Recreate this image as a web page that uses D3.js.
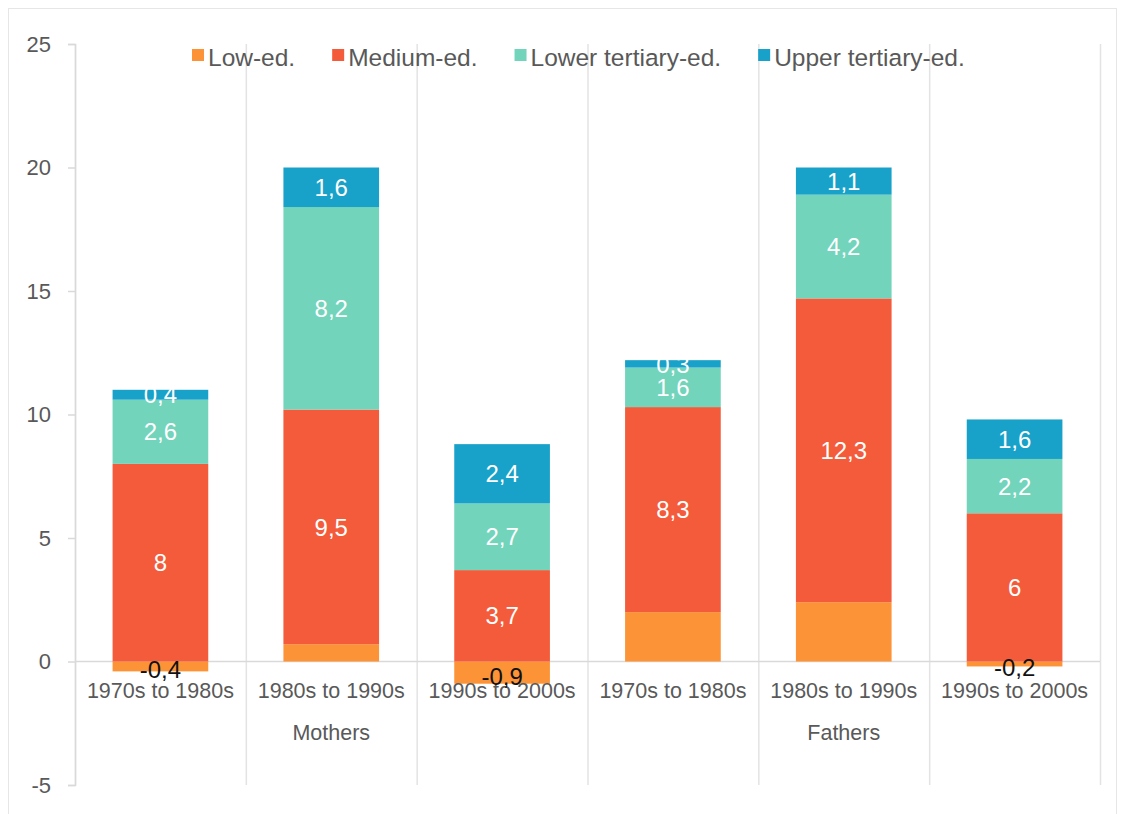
<!DOCTYPE html>
<html>
<head>
<meta charset="utf-8">
<script src="https://cdn.jsdelivr.net/npm/d3@7"></script>
<style>
    body { margin: 0; background: #fff; }
    svg { font-family: "Liberation Sans", Arial, sans-serif; }
</style>
</head>
<body>
<svg width="1121" height="814"></svg>
<script>
// categories (decade transitions), grouped by parent
const periods = ["1970s to 1980s", "1980s to 1990s", "1990s to 2000s",
                 "1970s to 1980s", "1980s to 1990s", "1990s to 2000s"];
const groups = ["Mothers", "Mothers", "Mothers", "Fathers", "Fathers", "Fathers"];
const groupNames = ["Mothers", "Fathers"];

// series values, one per category
const lowEd = [-0.4, 0.7, -0.9, 2.0, 2.4, -0.2];
const mediumEd = [8, 9.5, 3.7, 8.3, 12.3, 6];
const lowerTertiary = [2.6, 8.2, 2.7, 1.6, 4.2, 2.2];
const upperTertiary = [0.4, 1.6, 2.4, 0.3, 1.1, 1.6];

const seriesNames = ["Low-ed.", "Medium-ed.", "Lower tertiary-ed.", "Upper tertiary-ed."];
const seriesColors = ["#fd9337", "#f45b3a", "#72d4bb", "#18a2c9"];
const yTicks = [-5, 0, 5, 10, 15, 20, 25];

const seriesKeys = ["low", "medium", "lower", "upper"];
const rows = periods.map((p, i) => ({
    idx: i,
    low: lowEd[i],
    medium: mediumEd[i],
    lower: lowerTertiary[i],
    upper: upperTertiary[i]
}));

const svg = d3.select("svg");
const plotLeft = 75, plotRight = 1100, plotTop = 44, plotBottom = 785;

// outer frame
svg.append("rect")
    .attr("x", 8.5).attr("y", 8.5)
    .attr("width", 1108).attr("height", 820)
    .attr("fill", "none")
    .attr("stroke", "#e6e6e6");

const x = d3.scaleBand()
    .domain(rows.map(d => d.idx))
    .range([plotLeft, plotRight])
    .paddingInner(0.44)
    .paddingOuter(0.22);

const y = d3.scaleLinear()
    .domain([-5, 25])
    .range([plotBottom, plotTop]);

// vertical separators between categories
const step = x.step();
svg.append("g")
    .selectAll("line")
    .data(d3.range(periods.length + 1))
    .join("line")
    .attr("x1", i => plotLeft + i * step + 0.5)
    .attr("x2", i => plotLeft + i * step + 0.5)
    .attr("y1", y(25))
    .attr("y2", y(-5))
    .attr("stroke", "#e3e3e3")
    .attr("stroke-width", 1.5);

// y axis
const yAxis = d3.axisLeft(y)
    .tickValues(yTicks)
    .tickFormat(d => String(d))
    .tickSize(7)
    .tickPadding(17);
const yg = svg.append("g")
    .attr("transform", `translate(${plotLeft}, 0)`)
    .call(yAxis);
yg.selectAll("path, line").attr("stroke", "#d9d9d9").attr("stroke-width", 1.5);
yg.selectAll("text")
    .attr("fill", "#595959")
    .style("font-size", "22px")
    .style("font-family", "Liberation Sans, Arial, sans-serif");

// zero line
svg.append("line")
    .attr("x1", plotLeft).attr("x2", plotRight)
    .attr("y1", y(0)).attr("y2", y(0))
    .attr("stroke", "#d9d9d9")
    .attr("stroke-width", 1.5);

// stacked bars
const stack = d3.stack()
    .keys(seriesKeys)
    .offset(d3.stackOffsetDiverging);
const stacked = stack(rows);

const fmt = v => String(v).replace(".", ",");

const layer = svg.append("g")
    .selectAll("g")
    .data(stacked)
    .join("g")
    .attr("fill", (d, i) => seriesColors[i]);

layer.selectAll("rect")
    .data(d => d)
    .join("rect")
    .attr("x", d => x(d.data.idx))
    .attr("width", x.bandwidth())
    .attr("y", d => y(Math.max(d[0], d[1])))
    .attr("height", d => Math.abs(y(d[0]) - y(d[1])));

// category labels
svg.append("g")
    .selectAll("text")
    .data(rows)
    .join("text")
    .attr("x", d => x(d.idx) + x.bandwidth() / 2)
    .attr("y", 698)
    .attr("text-anchor", "middle")
    .attr("fill", "#595959")
    .style("font-size", "21.5px")
    .text(d => periods[d.idx]);

// data labels (positive low-ed. values are not labelled)
stacked.forEach((s, si) => {
    svg.append("g")
        .selectAll("text")
        .data(s.filter(d => !(si === 0 && d.data[s.key] > 0)))
        .join("text")
        .attr("x", d => x(d.data.idx) + x.bandwidth() / 2)
        .attr("y", d => y((d[0] + d[1]) / 2))
        .attr("dy", d => d.data[s.key] < 0 ? "0.5em" : "0.36em")
        .attr("text-anchor", "middle")
        .attr("fill", d => d.data[s.key] < 0 ? "#111" : "#fff")
        .style("font-size", "24px")
        .text(d => fmt(d.data[s.key]));
});

// group labels
svg.append("g")
    .selectAll("text")
    .data(groupNames)
    .join("text")
    .attr("x", g => {
        const idx = rows.filter(d => groups[d.idx] === g).map(d => d.idx);
        return x(idx[Math.floor(idx.length / 2)]) + x.bandwidth() / 2;
    })
    .attr("y", 740)
    .attr("text-anchor", "middle")
    .attr("fill", "#595959")
    .style("font-size", "21.5px")
    .text(g => g);

// legend
const legend = svg.append("g").attr("transform", "translate(192, 57)");
let lx = 0;
seriesNames.forEach((name, i) => {
    const item = legend.append("g").attr("transform", `translate(${lx}, 0)`);
    item.append("rect")
        .attr("x", 0).attr("y", -8)
        .attr("width", 12).attr("height", 12)
        .attr("fill", seriesColors[i]);
    const t = item.append("text")
        .attr("x", 16)
        .attr("y", 9)
        .attr("fill", "#595959")
        .style("font-size", "24.5px")
        .text(name);
    lx += 16 + t.node().getComputedTextLength() + 37;
});
</script>
</body>
</html>
